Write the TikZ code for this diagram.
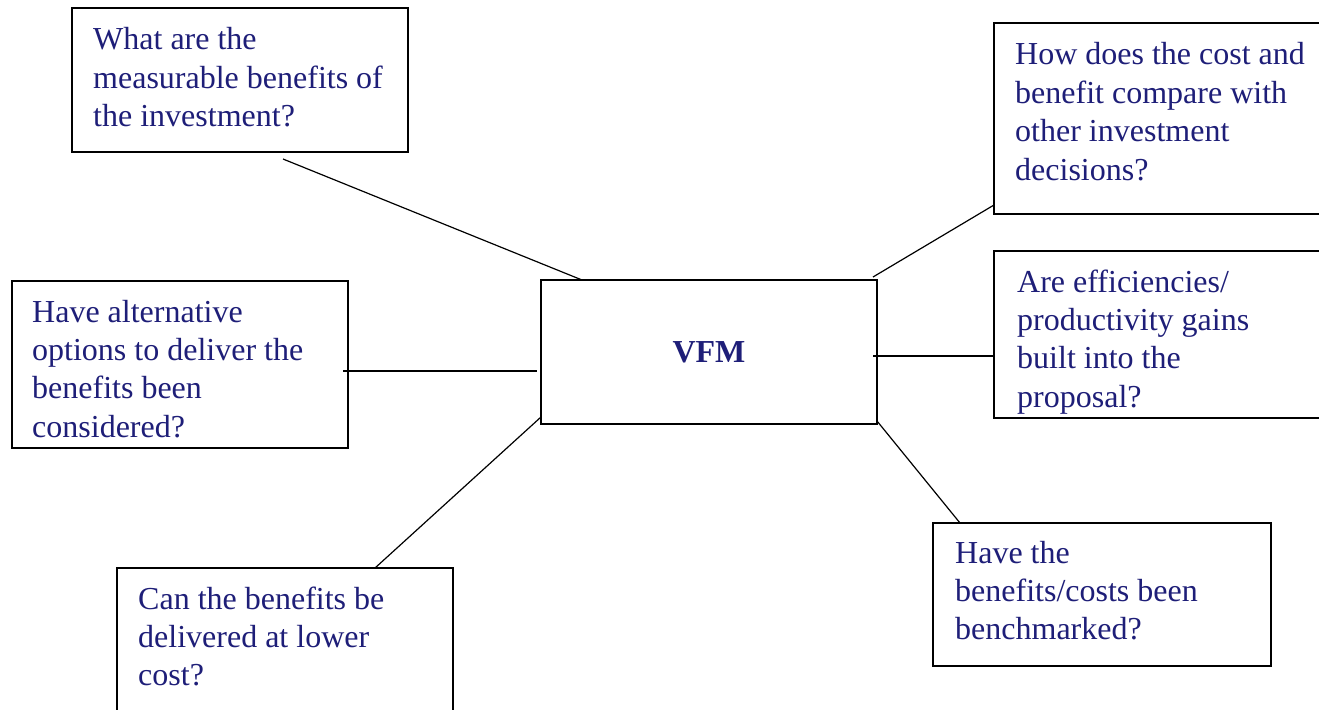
\documentclass[tikz,border=0pt]{standalone}
\usepackage{fontspec}
\setmainfont{Liberation Serif}
\definecolor{qtext}{RGB}{30,30,120}
\tikzset{
  qbox/.style={draw=black, line width=1.5pt, rectangle, anchor=north west, inner sep=0pt, outer sep=0pt, fill=white},
  qlabel/.style={anchor=base west, inner sep=0pt, text=qtext, font=\fontsize{32}{38.4}\selectfont},
  link/.style={draw=black, line width=1.2pt}
}
\newcommand{\qlines}[1]{\parbox[t]{330pt}{\raggedright\fontsize{32}{38.4}\selectfont #1}}
\begin{document}
\begin{tikzpicture}[x=1pt,y=-1pt]
\useasboundingbox (0,0) rectangle (1319,709);
\clip (0,0) rectangle (1319,709);
% boxes
\node[qbox, minimum width=336pt, minimum height=144pt] (b1) at (72,8) {};
\node[qbox, minimum width=400pt, minimum height=191pt] (b2) at (994,23) {};
\node[qbox, minimum width=400pt, minimum height=167pt] (b3) at (994,251) {};
\node[qbox, minimum width=336pt, minimum height=167pt] (b4) at (12,281) {};
\node[qbox, minimum width=336pt, minimum height=144pt, text=qtext, font=\fontsize{32}{38.4}\selectfont\bfseries] (vfm) at (541,280) {VFM};
\node[qbox, minimum width=336pt, minimum height=200pt] (b6) at (117,568) {};
\node[qbox, minimum width=338pt, minimum height=143pt] (b7) at (933,523) {};
% texts
\node[qlabel] (t1) at (93,50) {\qlines{What are the\\measurable benefits of\\the investment?}};
\node[qlabel] (t2) at (1015,65) {\qlines{How does the cost and\\benefit compare with\\other investment\\decisions?}};
\node[qlabel] (t3) at (1017,292) {\qlines{Are efficiencies/\\productivity gains\\built into the\\proposal?}};
\node[qlabel] (t4) at (32,322) {\qlines{Have alternative\\options to deliver the\\benefits been\\considered?}};
\node[qlabel] (t6) at (138,609) {\qlines{Can the benefits be\\delivered at lower\\cost?}};
\node[qlabel] (t7) at (955,563) {\qlines{Have the\\benefits/costs been\\benchmarked?}};
% connectors
\draw[link] ([shift={(211,7)}]b1.south west) -- ([shift={(41,0)}]vfm.north west);
\draw[link] ([shift={(-4,-3)}]vfm.north east) -- ([shift={(0,-9)}]b2.south west);
\draw[link] ([shift={(-4,76)}]vfm.north east) -- ([shift={(0,-62)}]b3.south west);
\draw[link] ([shift={(-5,90)}]b4.north east) -- ([shift={(-4,91)}]vfm.north west);
\draw[link] ([shift={(258,0)}]b6.north west) -- ([shift={(0,-7)}]vfm.south west);
\draw[link] ([shift={(0,-3)}]vfm.south east) -- ([shift={(27,0)}]b7.north west);
\end{tikzpicture}
\end{document}
